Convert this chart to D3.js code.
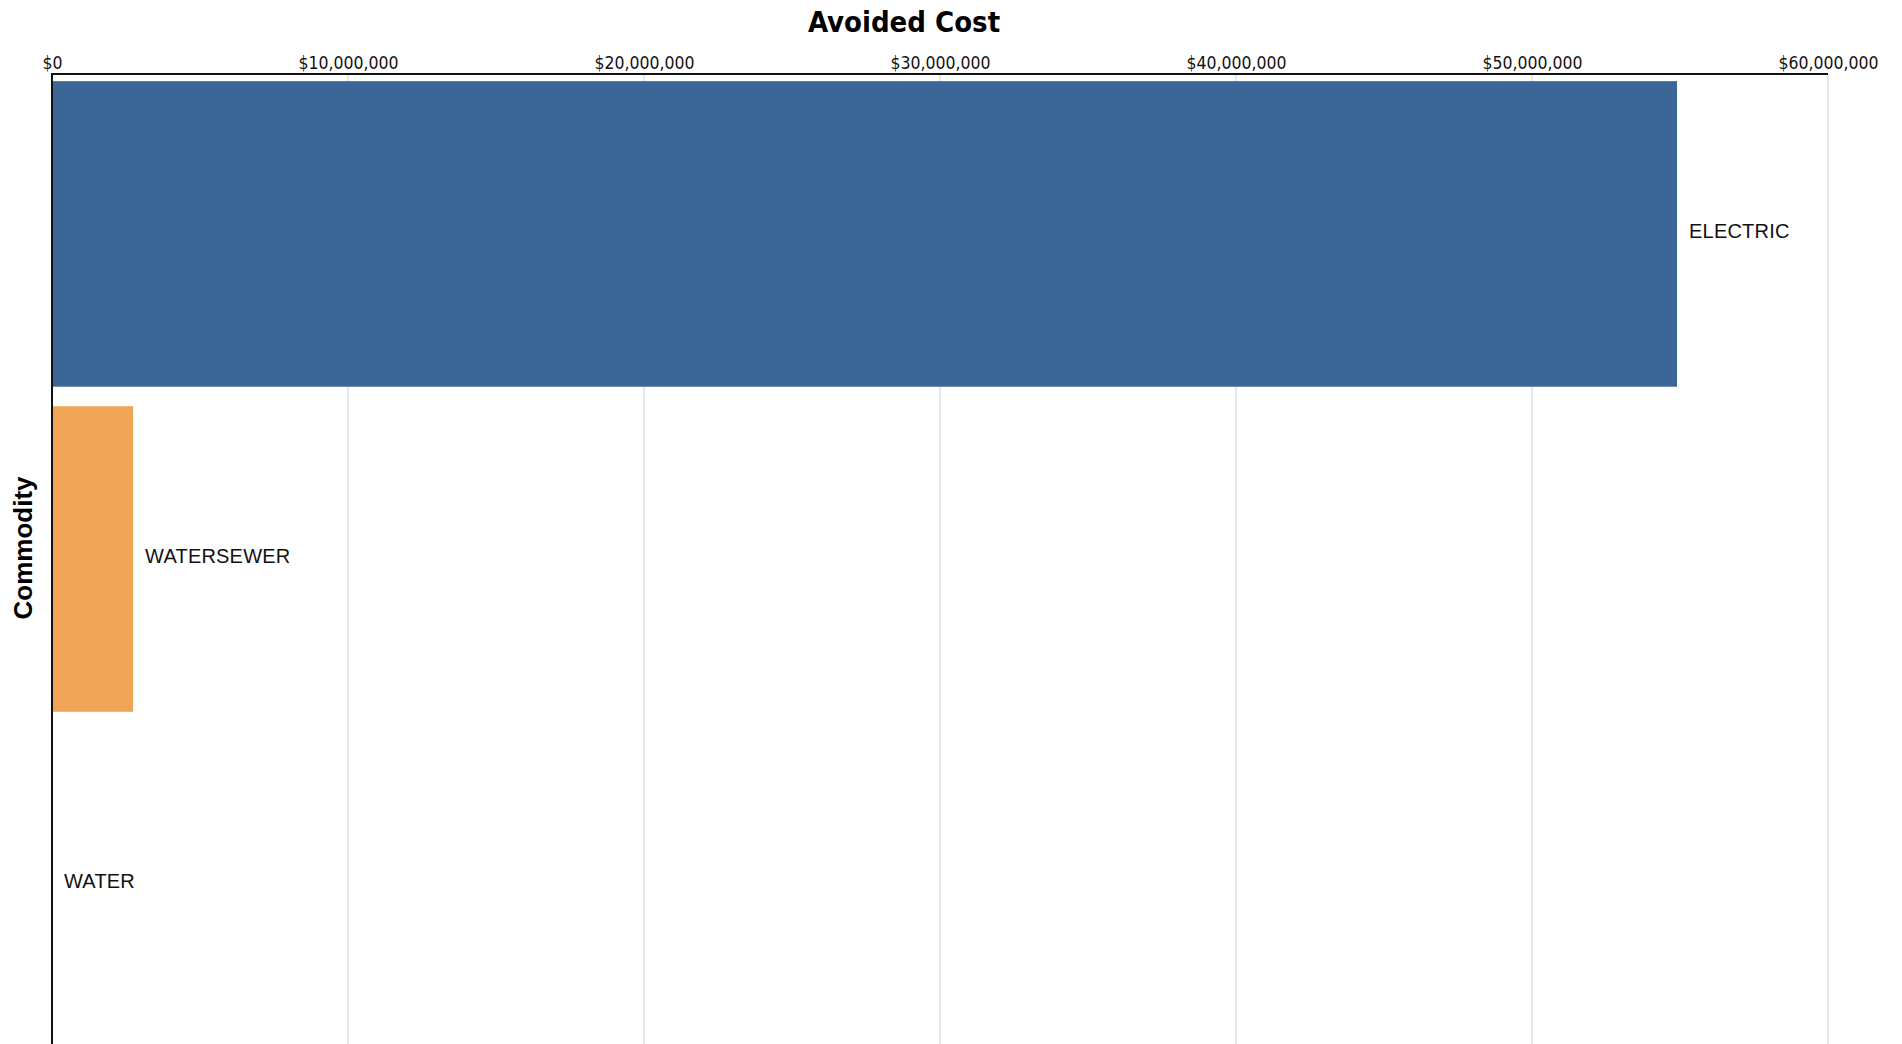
<!DOCTYPE html>
<html lang="en">
<head>
    <meta charset="UTF-8">
    <title>Avoided Cost</title>
    <script src="https://d3js.org/d3.v7.min.js"></script>
    <style>
        body { margin: 0; background: #fff; }
        .tick-label {
            font-family: "DejaVu Sans Condensed", "DejaVu Sans", sans-serif;
            font-size: 17.5px;
            fill: #111;
        }
        .bar-label {
            font-family: "Liberation Sans", Arial, sans-serif;
            font-size: 20px;
            letter-spacing: 0.2px;
            fill: #111;
        }
    </style>
</head>
<body>
    <svg width="1902" height="1044"></svg>

    <script>
        // data
        const commodities = ["ELECTRIC", "WATERSEWER", "WATER"];
        const avoidedCost = [54900000, 2740000, 0];
        const tickValues = [0, 10000000, 20000000, 30000000, 40000000, 50000000, 60000000];
        const barColors = ["#3b6695", "#f0a456", "#3b6695"];

        const width = 1902, height = 1044;
        const plotLeft = 52, plotRight = 1828, plotTop = 74, plotBottom = 1044;

        const svg = d3.select("svg");

        const x = d3.scaleLinear()
            .domain([0, 60000000])
            .range([plotLeft, plotRight]);

        const y = d3.scaleBand()
            .domain(commodities)
            .range([plotTop, plotBottom])
            .paddingInner(0.06)
            .paddingOuter(0.022);

        const fmt = v => "$" + d3.format(",")(v);

        // grid lines
        svg.append("g")
            .selectAll("line")
            .data(tickValues.slice(1))
            .join("line")
            .attr("x1", d => x(d))
            .attr("x2", d => x(d))
            .attr("y1", plotTop)
            .attr("y2", plotBottom)
            .attr("stroke", "#e6e6ee")
            .attr("stroke-width", 2);

        // bars
        svg.append("g")
            .selectAll("rect")
            .data(commodities)
            .join("rect")
            .attr("x", plotLeft)
            .attr("y", d => y(d))
            .attr("width", (d, i) => x(avoidedCost[i]) - plotLeft)
            .attr("height", y.bandwidth())
            .attr("fill", (d, i) => barColors[i]);

        // bar labels
        svg.append("g")
            .selectAll("text")
            .data(commodities)
            .join("text")
            .attr("class", "bar-label")
            .attr("x", (d, i) => x(avoidedCost[i]) + 12)
            .attr("y", d => y(d) + y.bandwidth() / 2 + 4)
            .text(d => d);

        // top axis
        const xAxis = svg.append("g")
            .attr("transform", `translate(0,${plotTop})`)
            .call(d3.axisTop(x).tickValues(tickValues).tickSize(0).tickPadding(5).tickFormat(fmt));
        xAxis.select(".domain").remove();
        xAxis.selectAll("text")
            .attr("class", "tick-label")
            .attr("font-family", null)
            .attr("font-size", null)
            .attr("fill", null);
        xAxis.attr("font-family", null).attr("font-size", null);

        svg.append("line")
            .attr("x1", plotLeft - 1).attr("x2", plotRight)
            .attr("y1", plotTop).attr("y2", plotTop)
            .attr("stroke", "#111").attr("stroke-width", 2);

        // left axis line
        svg.append("line")
            .attr("x1", plotLeft).attr("x2", plotLeft)
            .attr("y1", plotTop - 1).attr("y2", plotBottom)
            .attr("stroke", "#111").attr("stroke-width", 2);

        // title
        svg.append("text")
            .attr("x", 904)
            .attr("y", 32)
            .attr("text-anchor", "middle")
            .style("font-family", "'DejaVu Sans Condensed', 'DejaVu Sans', sans-serif")
            .style("font-weight", "bold")
            .style("font-size", "29px")
            .text("Avoided Cost");

        // y axis title
        svg.append("text")
            .attr("transform", "translate(32,548) rotate(-90)")
            .attr("text-anchor", "middle")
            .style("font-family", "'Liberation Sans', Arial, sans-serif")
            .style("font-weight", "bold")
            .style("font-size", "26px")
            .text("Commodity");
    </script>
</body>
</html>
